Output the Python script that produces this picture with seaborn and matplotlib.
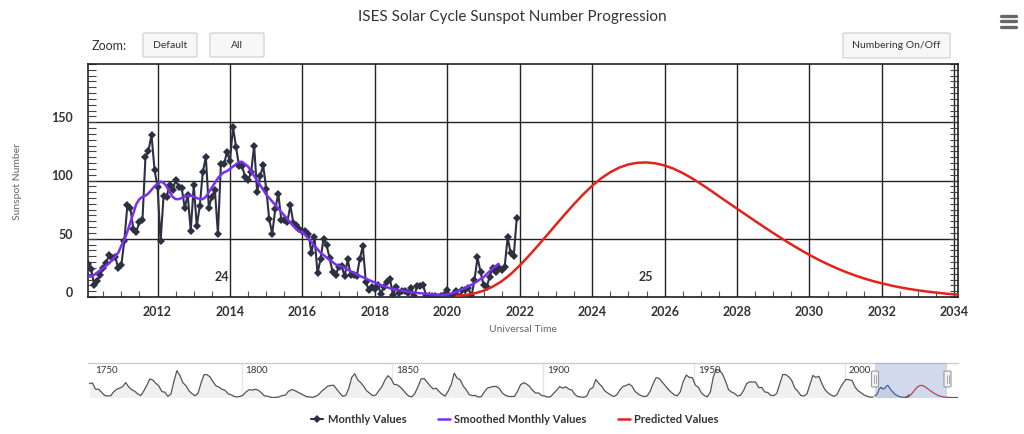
import numpy as np
import matplotlib
matplotlib.use("Agg")
import matplotlib.pyplot as plt
import matplotlib.transforms as mtransforms
from matplotlib.patches import FancyBboxPatch
from matplotlib.lines import Line2D
import seaborn as sns

# ---------------- data ----------------
START_YEAR = 2010  # monthly series start (Jan 2010)

monthly_values = [
    19.6, 28.5, 24.0, 10.4, 13.9, 18.8, 25.2, 29.6, 36.4, 33.6, 34.4, 24.5,
    27.3, 48.3, 78.6, 76.1, 58.2, 56.1, 64.5, 65.8, 120.1, 125.7, 139.1, 109.3,
    94.4, 47.8, 86.6, 85.9, 96.5, 92.0, 100.1, 94.8, 93.7, 76.5, 87.6, 56.8,
    96.1, 60.9, 78.3, 107.3, 120.2, 76.7, 86.2, 91.8, 54.5, 114.4, 113.9, 124.2,
    117.0, 146.1, 128.7, 112.5, 112.5, 102.9, 100.2, 106.9, 130.0, 90.0, 103.6, 112.9,
    93.0, 66.7, 54.5, 75.3, 88.8, 66.5, 65.8, 64.4, 78.6, 63.6, 62.2, 58.0,
    57.0, 56.4, 54.1, 37.9, 51.5, 20.5, 32.4, 50.2, 44.6, 33.4, 21.4, 18.5,
    26.1, 26.4, 17.7, 32.3, 18.9, 19.2, 17.8, 32.6, 43.6, 13.2, 5.7, 8.2,
    6.8, 10.7, 2.5, 8.9, 13.1, 15.6, 1.6, 8.7, 3.3, 4.9, 4.9, 3.1,
    7.7, 0.8, 9.4, 9.1, 9.9, 1.2, 0.9, 0.5, 1.1, 0.4, 0.5, 1.5,
    6.2, 0.2, 1.5, 5.2, 0.2, 5.8, 6.1, 7.5, 0.6, 14.4, 34.0, 21.8,
    10.4, 8.2, 17.2, 24.5, 21.2, 25.0, 23.4, 25.9, 51.3, 37.4, 34.8, 67.5,
]

smoothed_values = [
    16, 17, 18, 19, 21, 23, 25, 27, 29, 32, 35, 38,
    44, 49, 56, 64, 72, 80, 84, 86, 87, 89, 92, 95,
    97, 99, 98, 95, 90, 86, 84, 84, 85, 86, 87, 87,
    86, 85, 84, 84, 86, 90, 94, 98, 102, 105, 107, 108,
    110, 112, 114, 116, 116, 114, 112, 108, 104, 100, 96, 92,
    88, 85, 82, 79, 76, 73, 70, 67, 64, 61, 58, 56,
    56, 53, 50, 47, 44, 41, 38, 36, 34, 32, 30, 28,
    27, 26, 25, 23.5, 22, 21, 19.5, 18, 17, 16, 14.5, 13.5,
    12.5, 11, 10, 9.5, 8.5, 7.5, 7, 6.5, 6, 5.5, 5, 4.5,
    4, 3.8, 3.5, 3.2, 3, 2.7, 2.5, 2.3, 2.1, 1.9, 1.8, 1.8,
    2.2, 2.8, 3.5, 4.5, 5.5, 7, 8, 9, 10.5, 12, 13.5, 15.5,
    17, 19.5, 22, 24.5, 26.5, 28.5,
]

pred_years = [
    2020.25, 2020.5, 2020.75, 2021.0, 2021.25, 2021.5, 2021.75, 2022.0,
    2022.25, 2022.5, 2022.75, 2023.0, 2023.25, 2023.5, 2023.75, 2024.0,
    2024.25, 2024.5, 2024.75, 2025.0, 2025.25, 2025.5, 2025.75, 2026.0,
    2026.25, 2026.5, 2026.75, 2027.0, 2027.25, 2027.5, 2027.75, 2028.0,
    2028.25, 2028.5, 2028.75, 2029.0, 2029.25, 2029.5, 2029.75, 2030.0,
    2030.25, 2030.5, 2030.75, 2031.0, 2031.25, 2031.5, 2031.75, 2032.0,
    2032.25, 2032.5, 2032.75, 2033.0, 2033.25, 2033.5, 2033.75, 2034.0,
    2034.5, 2035.0, 2035.5, 2036.0, 2036.5, 2037.0, 2037.5,
]
pred_values = [
    1.0, 1.7, 3.1, 5.4, 8.8, 13.5, 19.6, 27.1,
    35.3, 44.0, 53.0, 62.1, 71.1, 79.8, 88.0, 95.5,
    101.9, 107.1, 111.1, 113.8, 115.2, 115.5, 114.7, 112.9,
    110.1, 106.4, 102.0, 97.1, 91.9, 86.5, 81.1, 75.8,
    70.5, 65.2, 60.0, 54.9, 49.9, 45.1, 40.5, 36.1,
    32.0, 28.2, 24.7, 21.5, 18.6, 16.0, 13.7, 11.7,
    9.9, 8.3, 6.9, 5.7, 4.65, 3.75, 2.95, 2.25,
    1.5, 1.0, 0.7, 0.5, 0.35, 0.25, 0.2,
]

HIST_START = 1749  # yearly means shown in the navigator
hist_values = [
    134.7, 139.0, 79.5, 79.7, 51.2, 20.3, 16.0, 17.0, 54.0, 79.3,
    90.0, 104.8, 143.2, 102.0, 75.2, 60.7, 34.8, 19.0, 63.0, 116.3,
    176.8, 168.0, 136.0, 110.8, 58.0, 51.0, 11.7, 33.0, 154.2, 257.3,
    209.8, 141.3, 113.5, 64.2, 38.0, 17.0, 40.2, 138.2, 220.0, 218.2,
    196.8, 149.8, 111.0, 100.0, 78.2, 68.3, 35.5, 26.7, 10.7, 6.8,
    11.3, 24.2, 56.7, 75.0, 71.8, 79.2, 70.3, 46.8, 16.8, 13.5,
    4.2, 0.0, 2.3, 8.3, 20.3, 23.2, 59.0, 76.3, 68.3, 52.9,
    38.5, 24.2, 9.2, 6.3, 2.2, 11.4, 28.2, 59.9, 83.0, 108.5,
    115.2, 117.4, 80.8, 44.3, 13.4, 19.5, 85.8, 192.7, 227.3, 168.7,
    143.0, 105.5, 63.3, 40.3, 18.1, 25.1, 65.8, 102.7, 166.3, 208.3,
    182.5, 126.3, 122.0, 102.7, 74.1, 39.0, 12.7, 8.2, 43.4, 104.4,
    178.3, 182.2, 146.6, 112.1, 83.5, 89.2, 57.8, 30.7, 13.9, 62.8,
    123.6, 232.0, 185.3, 169.2, 110.1, 74.5, 28.3, 18.9, 20.7, 5.7,
    10.0, 53.7, 90.5, 99.0, 106.1, 105.8, 86.3, 42.4, 21.8, 11.2,
    10.4, 11.8, 59.5, 121.7, 142.0, 130.0, 106.6, 69.4, 43.8, 44.4,
    20.2, 15.7, 4.6, 8.5, 40.8, 70.1, 105.5, 90.1, 102.8, 80.9,
    73.2, 30.9, 9.5, 6.0, 2.4, 16.1, 79.0, 95.0, 173.6, 134.6,
    105.7, 62.7, 43.5, 23.7, 9.7, 27.9, 74.0, 106.5, 114.7, 129.7,
    108.2, 59.4, 35.1, 18.6, 9.2, 14.6, 60.2, 132.8, 190.6, 182.6,
    148.0, 113.0, 79.2, 50.8, 27.1, 16.1, 55.3, 154.3, 214.7, 193.0,
    190.7, 118.9, 98.3, 45.0, 20.1, 6.6, 54.2, 200.7, 269.3, 261.7,
    225.1, 159.0, 76.4, 53.4, 39.9, 15.0, 22.0, 66.8, 132.9, 150.0,
    149.4, 148.0, 94.4, 97.6, 54.1, 49.2, 22.5, 18.4, 39.3, 131.0,
    220.1, 218.9, 198.9, 162.4, 91.0, 60.5, 20.6, 14.8, 33.9, 123.0,
    211.1, 191.8, 203.3, 133.0, 76.1, 44.9, 25.1, 11.6, 28.9, 88.3,
    136.3, 173.9, 170.4, 163.6, 99.3, 65.3, 45.8, 24.7, 12.6, 4.2,
    4.8,
]

x_ticks = [2012, 2014, 2016, 2018, 2020, 2022, 2024, 2026, 2028, 2030, 2032, 2034]
y_ticks = [0, 50, 100, 150]
nav_labels = [1750, 1800, 1850, 1900, 1950, 2000]
cycle_labels = ["24", "25"]
cycle_pos = [(2013.78, 18), (2025.47, 18)]
legend_labels = ["Monthly Values", "Smoothed Monthly Values", "Predicted Values"]

month_years = START_YEAR + np.arange(len(monthly_values)) / 12.0
smooth_years = START_YEAR + np.arange(len(smoothed_values)) / 12.0
hist_years = HIST_START + 0.5 + np.arange(len(hist_values))

C_MON = "#2c3042"
C_SMO = "#7a2ff0"
C_PRED = "#e3231b"
TXT = "#333333"

# ---------------- figure ----------------
sns.set_theme(style="white")
plt.rcParams["font.family"] = ["Lato", "DejaVu Sans"]

W, H = 1024, 435
fig = plt.figure(figsize=(W / 100, H / 100), dpi=100)
fig.patch.set_facecolor("white")


def fx(px):
    return px / W


def fy(py):
    return 1 - py / H


L, R, T, B = 88, 958, 65, 298
ax = fig.add_axes([fx(L), fy(B), fx(R) - fx(L), fy(T) - fy(B)])
ax.set_facecolor("white")

sns.lineplot(x=month_years, y=monthly_values, ax=ax, color=C_MON, lw=1.5,
             marker="D", markersize=4.2, markeredgewidth=0, estimator=None,
             sort=False, legend=False, zorder=3)
sns.lineplot(x=smooth_years, y=smoothed_values, ax=ax, color=C_SMO, lw=1.8,
             estimator=None, sort=False, legend=False, zorder=4)
sns.lineplot(x=pred_years, y=pred_values, ax=ax, color=C_PRED, lw=1.8,
             estimator=None, sort=False, legend=False, zorder=4)

ax.set_xlim(2010.08, 2034.1)
ax.set_ylim(0, 200)
ax.set_xticks(x_ticks)
ax.set_xticks(np.arange(2010.5, 2034.1, 0.5), minor=True)
ax.set_yticks(y_ticks)
ax.set_yticks(np.arange(0, 201, 5), minor=True)
ax.grid(True, which="major", color="#222222", lw=1.0)
ax.set_axisbelow(True)
for s in ax.spines.values():
    s.set_visible(True)
    s.set_color("#222222")
    s.set_linewidth(1.2)

ax.tick_params(axis="x", which="major", length=0, pad=6, labelsize=9,
               labelcolor=TXT)
ax.tick_params(axis="x", which="minor", direction="in", length=4, width=0.8,
               color="#555555", bottom=True, top=False)
ax.tick_params(axis="y", which="both", direction="in", length=6, width=0.8,
               color="#444444", left=True, right=True, pad=11, labelsize=9,
               labelcolor=TXT)
for lab in ax.get_xticklabels() + ax.get_yticklabels():
    lab.set_fontweight("bold")
off = mtransforms.ScaledTranslation(0, 6 / 100, fig.dpi_scale_trans)
for lab in ax.get_yticklabels():
    lab.set_transform(lab.get_transform() + off)
ax.set_xlabel("")
ax.set_ylabel("")

for txt, (cx, cy) in zip(cycle_labels, cycle_pos):
    ax.text(cx, cy, txt, ha="center", va="center", fontsize=9,
            fontweight="bold", color=TXT, zorder=6)

# titles / axis labels
fig.text(fx(512), fy(17), "ISES Solar Cycle Sunspot Number Progression",
         ha="center", va="center", fontsize=11, color=TXT)
fig.text(fx(18), fy(182), "Sunspot Number", rotation=90, ha="center",
         va="center", fontsize=7.5, color="#666666")
fig.text(fx(523), fy(330), "Universal Time", ha="center", va="center",
         fontsize=7.5, color="#666666")


# buttons
def button(x0, x1, y0, y1, label):
    fig.add_artist(FancyBboxPatch((fx(x0), fy(y1)), fx(x1) - fx(x0),
                                  fy(y0) - fy(y1),
                                  boxstyle="round,pad=0,rounding_size=0.002",
                                  transform=fig.transFigure, fc="#f7f7f7",
                                  ec="#cccccc", lw=0.8))
    fig.text(fx((x0 + x1) / 2), fy((y0 + y1) / 2 - 1), label, ha="center",
             va="center", fontsize=7.5, color=TXT)


fig.text(fx(92), fy(46), "Zoom:", ha="left", va="center", fontsize=9,
         color=TXT)
button(143, 197, 34, 58, "Default")
button(210, 264, 34, 58, "All")
button(843, 950, 34, 59, "Numbering On/Off")

# hamburger menu
for yy in (16.5, 22, 27.5):
    fig.add_artist(Line2D([fx(1001), fx(1016)], [fy(yy), fy(yy)], lw=2.4,
                          color="#666666", transform=fig.transFigure))

# ---------------- navigator ----------------
NT, NB = 364, 399
nav = fig.add_axes([fx(L), fy(NB), fx(R) - fx(L), fy(NT) - fy(NB)])
nav.set_facecolor("white")
nav.set_xlim(1749, 2037.65)
nav.set_ylim(-4, 330)
for yr in nav_labels[1:]:
    nav.axvline(yr, color="#e6e6e6", lw=1, zorder=0)
for yr in nav_labels:
    nav.text(yr + 1.3, 0.80, str(yr), transform=nav.get_xaxis_transform(),
             ha="left", va="center", fontsize=7, color=TXT)
nav.fill_between(hist_years, hist_values, 0, color="#f0f0f0", lw=0, zorder=1)
nav.fill_between(smooth_years, smoothed_values, 0, color="#f0f0f0", lw=0,
                 zorder=1)
sns.lineplot(x=hist_years, y=hist_values, ax=nav, color="#555555", lw=0.9,
             estimator=None, sort=False, legend=False, zorder=2)
sns.lineplot(x=smooth_years, y=smoothed_values, ax=nav, color="#3b4f8a",
             lw=0.9, estimator=None, sort=False, legend=False, zorder=2)
sns.lineplot(x=pred_years, y=pred_values, ax=nav, color=C_PRED, lw=0.9,
             estimator=None, sort=False, legend=False, zorder=2)
nav.axvspan(2010.08, 2034.1, color="#6685c2", alpha=0.3, lw=0, zorder=3)
nav.set_xticks([])
nav.set_yticks([])
nav.set_xlabel("")
nav.set_ylabel("")
for k, s in nav.spines.items():
    s.set_visible(k == "top")
nav.spines["top"].set_color("#cccccc")
nav.spines["top"].set_linewidth(1)

# navigator handles
for hx in (875, 947.5):
    fig.add_artist(FancyBboxPatch((fx(hx - 3.5), fy(388)), fx(7), fy(372) - fy(388),
                                  boxstyle="round,pad=0,rounding_size=0.002",
                                  transform=fig.transFigure, fc="#f2f2f2",
                                  ec="#999999", lw=0.8, zorder=10))
    for dx in (-1, 1):
        fig.add_artist(Line2D([fx(hx + dx), fx(hx + dx)], [fy(376), fy(384)],
                              lw=0.6, color="#999999",
                              transform=fig.transFigure, zorder=11))

# ---------------- legend ----------------
handles = [
    Line2D([], [], color=C_MON, lw=1.5, marker="D", markersize=4.2,
           markeredgewidth=0),
    Line2D([], [], color=C_SMO, lw=1.8),
    Line2D([], [], color=C_PRED, lw=1.8),
]
leg = fig.legend(handles, legend_labels,
                 loc="center", bbox_to_anchor=(fx(515), fy(420)), ncol=3,
                 frameon=False, fontsize=8, handlelength=1.1,
                 handletextpad=0.4, columnspacing=2.8)
for t in leg.get_texts():
    t.set_color(TXT)
    t.set_fontweight("bold")

fig.savefig("out.png", dpi=100, facecolor="white")
